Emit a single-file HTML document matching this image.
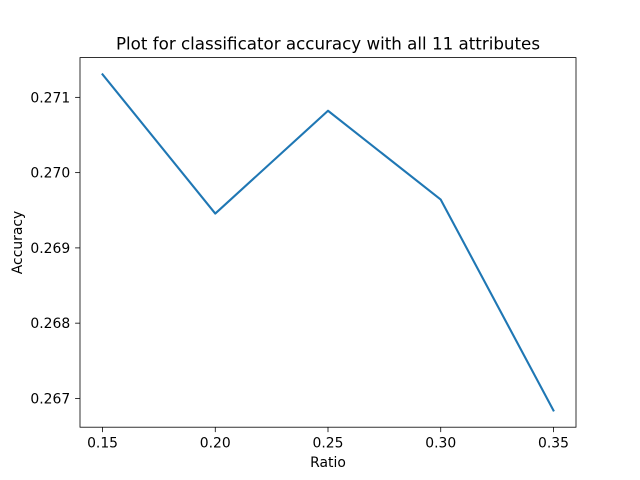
<!DOCTYPE html>
<html><head><meta charset="utf-8"><style>
html,body{margin:0;padding:0;background:#fff;}
svg{display:block;font-family:"DejaVu Sans","Liberation Sans",sans-serif;}
</style></head><body>
<svg id="chart" width="640" height="480" viewBox="0 0 640 480">
<rect width="640" height="480" fill="#fff"/>
<text x="328" y="49.5" text-anchor="middle" font-size="16.7" fill="#000">Plot for classificator accuracy with all 11 attributes</text>
<text x="328" y="467" text-anchor="middle" font-size="13.9" fill="#000">Ratio</text>
<text x="0" y="0" transform="translate(22,242.5) rotate(-90)" text-anchor="middle" font-size="13.9" fill="#000">Accuracy</text>
<g id="ticks"></g>
<g id="series"></g>
<rect x="80" y="57.6" width="496" height="369.6" fill="none" stroke="#000" stroke-width="0.8"/>
</svg>
<script>
const ratios = [0.15, 0.20, 0.25, 0.30, 0.35];
const accuracy = [0.271305, 0.269456, 0.270822, 0.269642, 0.266841];
const xTicks = [0.15, 0.20, 0.25, 0.30, 0.35];
const yTicks = [0.267, 0.268, 0.269, 0.270, 0.271];

const L=80, R=576, T=57.6, B=427.2;
const xMin=0.14, xMax=0.36;
const yLo=Math.min(...accuracy), yHi=Math.max(...accuracy), m=(yHi-yLo)*0.05;
const yMin=yLo-m, yMax=yHi+m;
const xs=v=>L+(v-xMin)/(xMax-xMin)*(R-L);
const ys=v=>B-(v-yMin)/(yMax-yMin)*(B-T);
const NS="http://www.w3.org/2000/svg";
const tg=document.getElementById('ticks');
function mk(tag,attrs,parent){const e=document.createElementNS(NS,tag);for(const k in attrs)e.setAttribute(k,attrs[k]);parent.appendChild(e);return e;}
xTicks.forEach(v=>{
  const x=xs(v);
  const l=mk('line',{x1:x,x2:x,y1:B,y2:B+4.9,stroke:'#000','stroke-width':0.8},tg);
  
  
  const t=mk('text',{x:x,y:B+20.5,'text-anchor':'middle','font-size':13.9,fill:'#000'},tg);
  t.textContent=v.toFixed(2);
  
  
});
yTicks.forEach(v=>{
  const y=ys(v);
  const l=mk('line',{x1:L-4.9,x2:L,y1:y,y2:y,stroke:'#000','stroke-width':0.8},tg);
  
  
  const t=mk('text',{x:L-9.8,y:y+5,'text-anchor':'end','font-size':13.9,fill:'#000'},tg);
  t.textContent=v.toFixed(3);
  
  
});
const pts=ratios.map((r,i)=>xs(r)+','+ys(accuracy[i])).join(' ');
const pl=mk('polyline',{points:pts,fill:'none',stroke:'#1f77b4','stroke-width':2.1,'stroke-linejoin':'round','stroke-linecap':'square'},document.getElementById('series'));


</script>
</body></html>
